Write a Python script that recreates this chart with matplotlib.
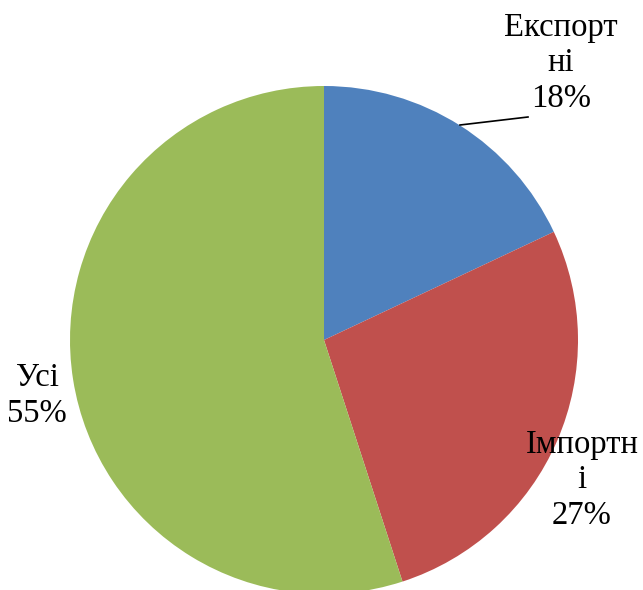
import matplotlib
matplotlib.use('Agg')
import matplotlib.pyplot as plt

# data
categories = ['Експорт\nні', 'Імпортн\nі', 'Усі']
shares = [18, 27, 55]
colors = ['#4F81BD', '#C0504D', '#9BBB59']

W, H = 643, 590
fig = plt.figure(figsize=(W / 100, H / 100), dpi=100)
ax = fig.add_axes([0, 0, 1, 1])

cx, cy, r = 324, H - 340, 254
wedges, _ = ax.pie(shares, colors=colors, startangle=90, counterclock=False,
                   center=(cx, cy), radius=r, frame=True,
                   wedgeprops=dict(linewidth=0))
ax.set_xlim(0, W)
ax.set_ylim(0, H)
ax.set_aspect('equal')
ax.axis('off')

font = dict(family=['Liberation Serif', 'DejaVu Serif'], fontsize=23.5,
            ha='center', va='center', linespacing=1.22)

# label positions in pixel coords (x, y from top)
label_pos = [(561, 63), (582, 480), (37, 396)]
for cat, val, (lx, ly) in zip(categories, shares, label_pos):
    ax.text(lx, H - ly, f'{cat}\n{val}%', **font)

# leader line for first slice
ax.plot([460, 528], [H - 125, H - 117], color='black', lw=1.2)

fig.savefig('out.png', dpi=100)
